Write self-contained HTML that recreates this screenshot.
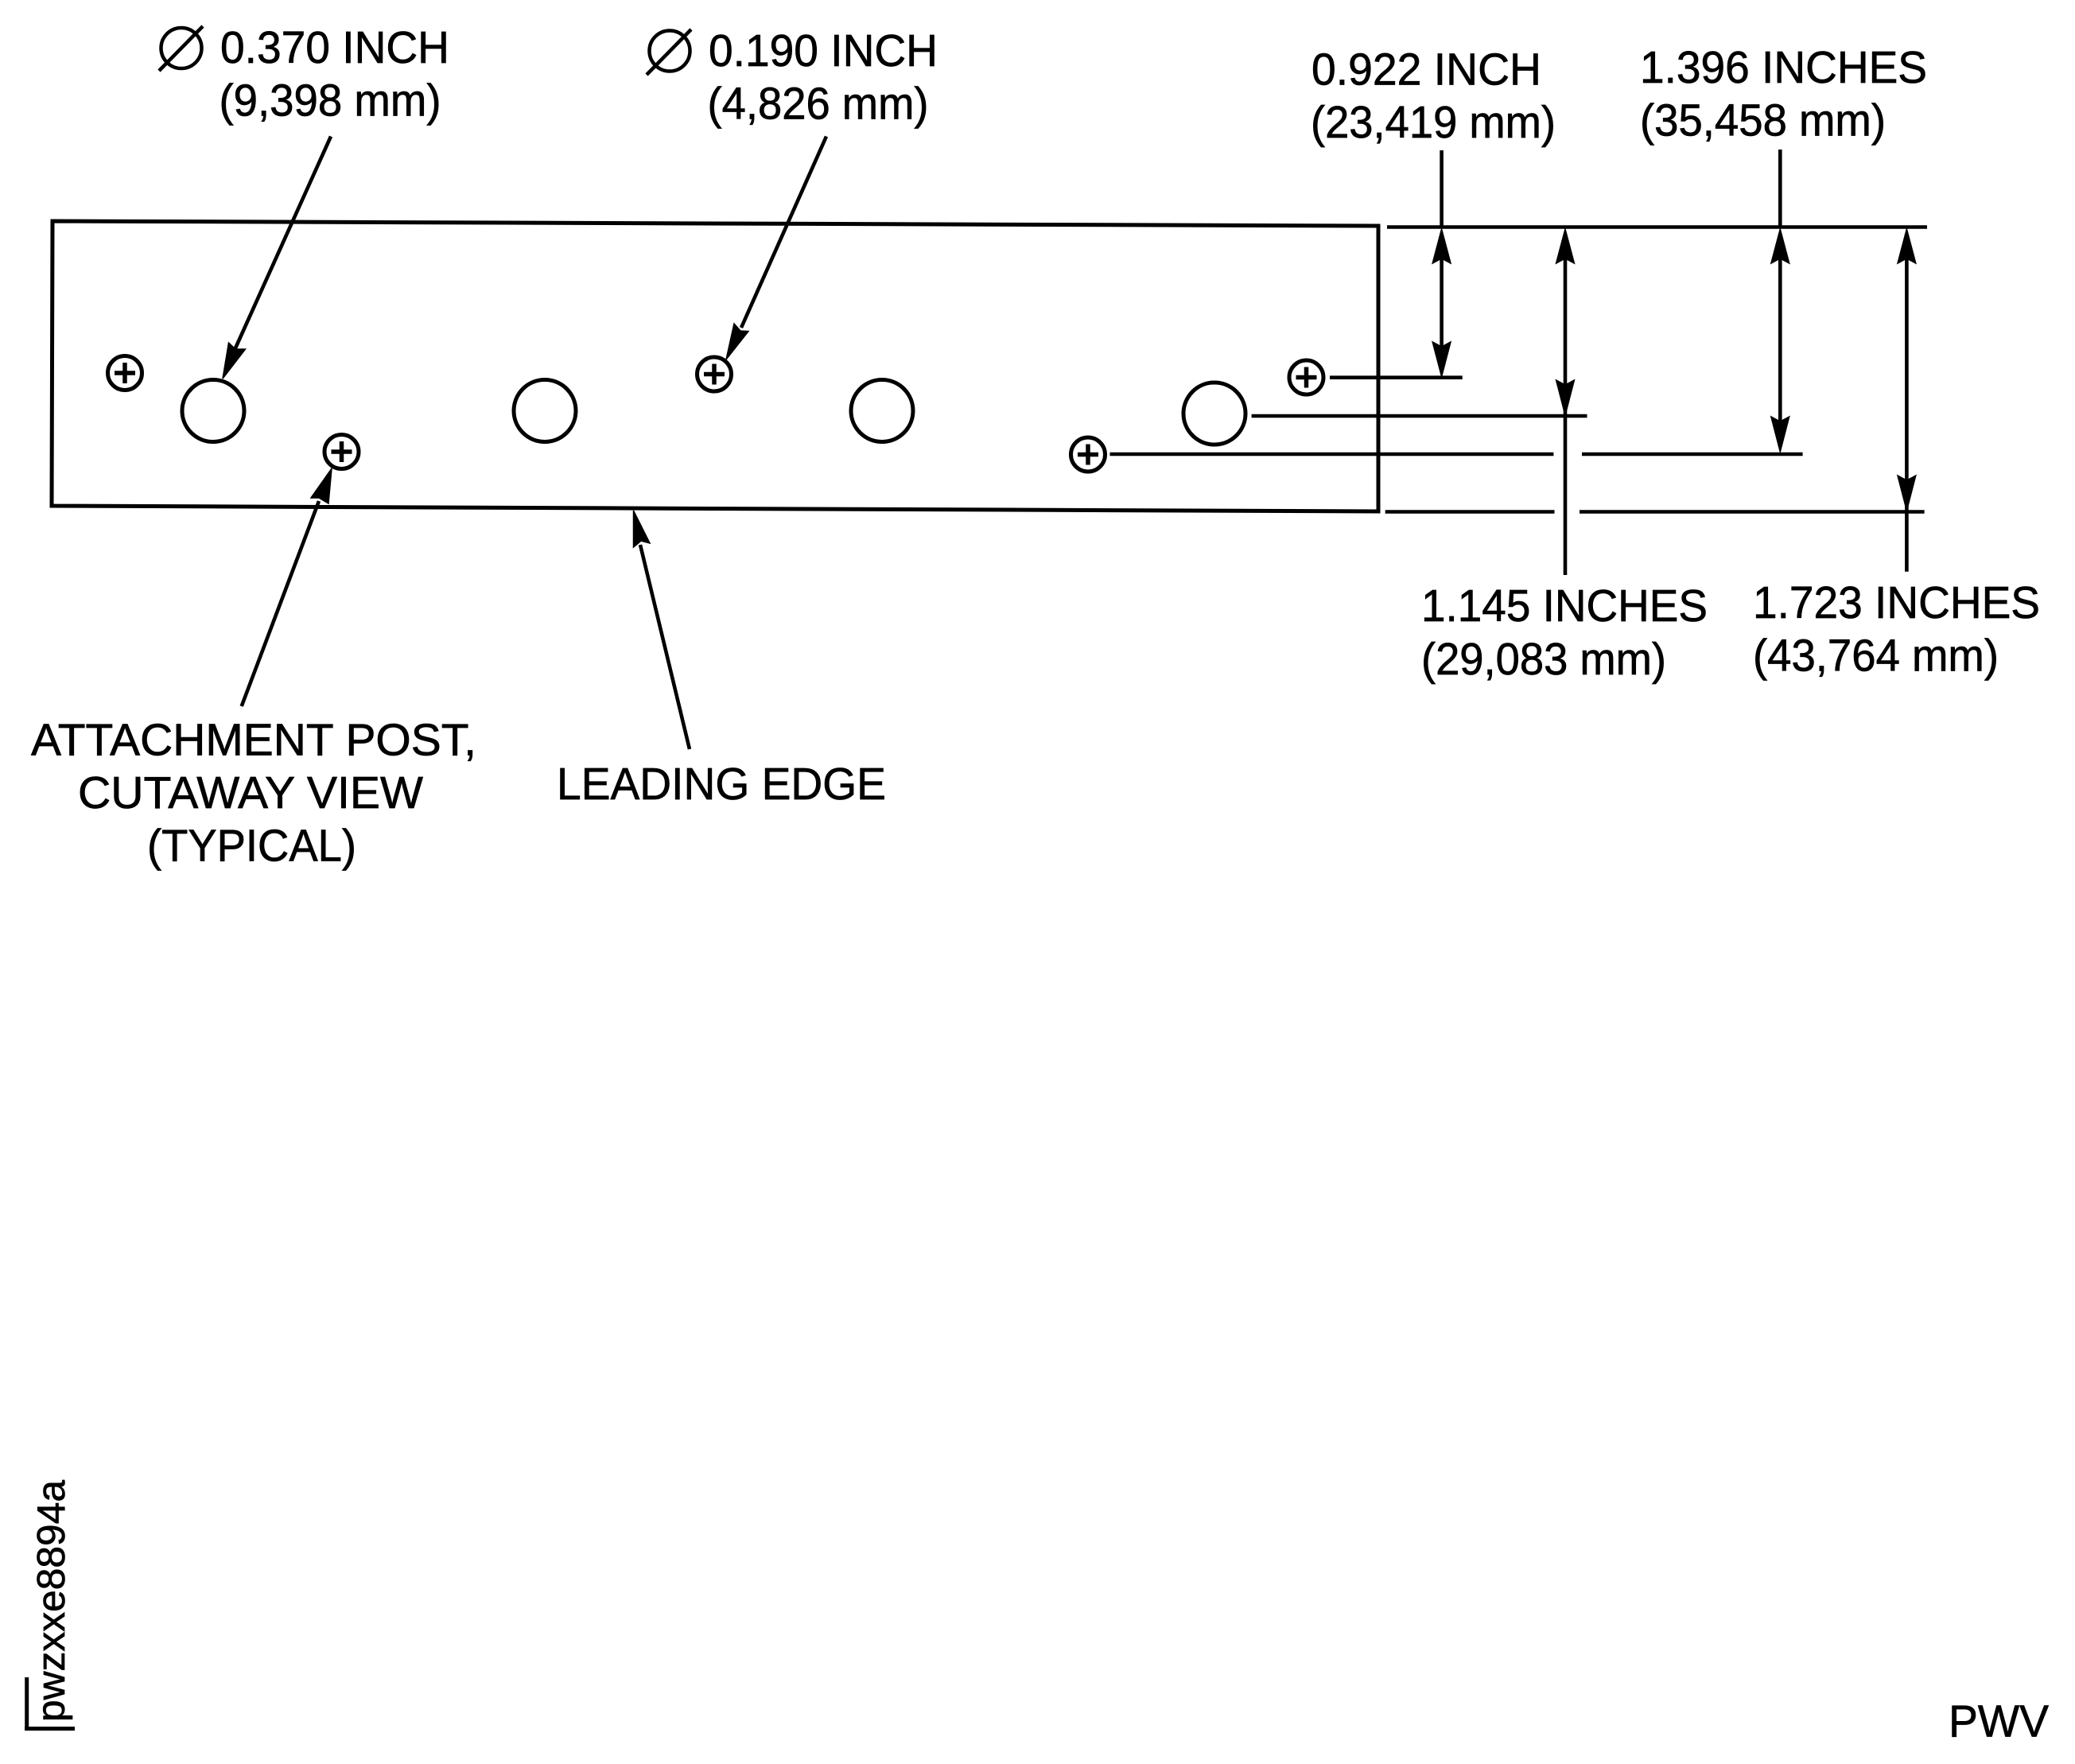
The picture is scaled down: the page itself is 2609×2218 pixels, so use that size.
<!DOCTYPE html>
<html><head><meta charset="utf-8"><style>
html,body{margin:0;padding:0;background:#fff}
svg{display:block}
text{font-family:"Liberation Sans",Arial,sans-serif;font-size:57px;fill:#000;stroke:#000;stroke-width:.7px}
</style></head><body>
<svg width="2609" height="2218" viewBox="0 0 2609 2218" xmlns="http://www.w3.org/2000/svg">
<rect width="2609" height="2218" fill="#fff"/>
<g fill="none" stroke="#000" stroke-width="5">
<path d="M66 278 L1733 284 L1733 643 L65 636 Z"/>
<circle cx="268" cy="516.5" r="39"/>
<circle cx="685" cy="516.5" r="39"/>
<circle cx="1109" cy="516.5" r="39"/>
<circle cx="1527" cy="520" r="39"/>
<circle cx="157" cy="469" r="21.5"/>
<circle cx="429.5" cy="568" r="21.5"/>
<circle cx="898" cy="470.5" r="21.5"/>
<circle cx="1642.5" cy="474.5" r="21.5"/>
<circle cx="1368" cy="571.5" r="21.5"/>
<path stroke-width="5.5" d="M144 469H170M157 456V482M416.500 568H442.500M429.500 555V581M885 470.500H911M898 457.500V483.500M1629.500 474.500H1655.500M1642.500 461.500V487.500M1355 571.500H1381M1368 558.500V584.500"/>
<circle cx="228" cy="60.500" r="25.500" stroke-width="4.500"/>
<path stroke-width="4.500" d="M200 89L255 33"/>
<circle cx="842" cy="64" r="25.500" stroke-width="4.500"/>
<path stroke-width="4.500" d="M813 94L869 37"/>
<path stroke-width="4.600" d="M416 171.500L295 440M1039 171.500L932 412M303.700 888L401 630M867 942L805 685"/>
<path stroke-width="4.600" d="M1744 285.500H2423M1672 474.700H1838.700M1573.600 523H1995.500M1395.500 571H1953.400M1989 571H2266.600M1741.700 643.500H1954.500M1986 643.500H2419.600"/>
<path stroke-width="4.600" d="M1812.600 189V285M1812.600 310V450M1968 310V723M2238.300 188V285M2238.300 310V545M2397.400 310V718.700"/>
<path stroke-width="5" d="M33.700 2109V2176M31 2173.500H94"/>
</g>
<g fill="#000" stroke="#000" stroke-width="1.5">
<polygon points="280,476 287.500,431 296,439 308.500,439"/>
<polygon points="913,452 923,407 931,416 941,416.500"/>
<polygon points="417,589 391,626 401,626 413,633"/>
<polygon points="796.500,642 796.500,688 806,680 817,683"/>
<polygon points="1812.600,288 1801.200,331 1812.600,325 1824,331"/>
<polygon points="1812.600,473.500 1801.200,430 1812.600,436 1824,430"/>
<polygon points="1968,288 1956.600,331 1968,325 1979.400,331"/>
<polygon points="1968,522 1956.600,478 1968,484 1979.400,478"/>
<polygon points="2238.300,288 2226.900,331 2238.300,325 2249.700,331"/>
<polygon points="2238.300,568 2226.900,524 2238.300,530 2249.700,524"/>
<polygon points="2397.400,288 2386,331 2397.400,325 2408.800,331"/>
<polygon points="2397.400,642 2386,598 2397.400,604 2408.800,598"/>
</g>
<text x="277" y="79" textLength="288" lengthAdjust="spacingAndGlyphs">0.370 INCH</text>
<text x="275.500" y="145.500" textLength="279" lengthAdjust="spacingAndGlyphs">(9,398 mm)</text>
<text x="891" y="83" textLength="288" lengthAdjust="spacingAndGlyphs">0.190 INCH</text>
<text x="889.500" y="149.700" textLength="278" lengthAdjust="spacingAndGlyphs">(4,826 mm)</text>
<text x="1649" y="106.500" textLength="289" lengthAdjust="spacingAndGlyphs">0.922 INCH</text>
<text x="1648" y="173" textLength="308" lengthAdjust="spacingAndGlyphs">(23,419 mm)</text>
<text x="2062" y="104" textLength="361" lengthAdjust="spacingAndGlyphs">1.396 INCHES</text>
<text x="2062" y="170.300" textLength="309" lengthAdjust="spacingAndGlyphs">(35,458 mm)</text>
<text x="1787" y="781" textLength="360" lengthAdjust="spacingAndGlyphs">1.145 INCHES</text>
<text x="1787" y="848" textLength="308" lengthAdjust="spacingAndGlyphs">(29,083 mm)</text>
<text x="2204" y="777" textLength="361" lengthAdjust="spacingAndGlyphs">1.723 INCHES</text>
<text x="2204" y="843.700" textLength="309" lengthAdjust="spacingAndGlyphs">(43,764 mm)</text>
<text x="39" y="949.600" textLength="560" lengthAdjust="spacingAndGlyphs">ATTACHMENT POST,</text>
<text x="98" y="1016" textLength="434" lengthAdjust="spacingAndGlyphs">CUTAWAY VIEW</text>
<text x="185" y="1082.700" textLength="263" lengthAdjust="spacingAndGlyphs">(TYPICAL)</text>
<text x="700" y="1004.800" textLength="414" lengthAdjust="spacingAndGlyphs">LEADING EDGE</text>
<text x="2450" y="2183.300" textLength="126" lengthAdjust="spacingAndGlyphs">PWV</text>
<text transform="translate(81 2165) rotate(-90)" x="0" y="0" textLength="304" lengthAdjust="spacingAndGlyphs" style="font-size:49px">pwzxxe8894a</text>
</svg>
</body></html>
